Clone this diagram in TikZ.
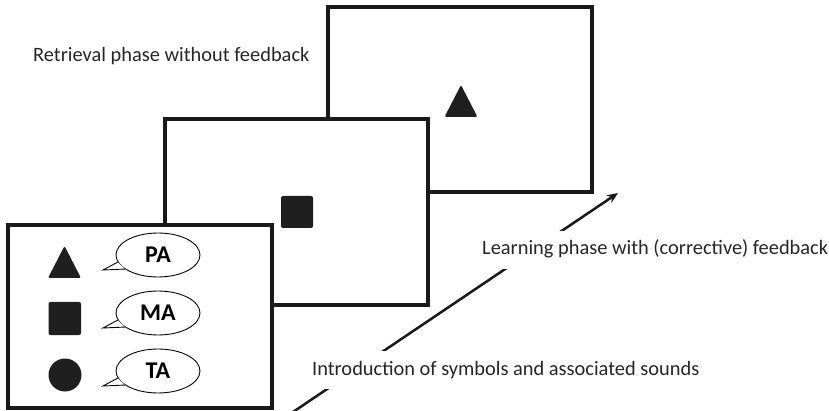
\documentclass[tikz,border=0pt]{standalone}
\usepackage{fontspec}
\setmainfont{Carlito}
\usetikzlibrary{arrows.meta,calc,shapes.geometric}
\begin{document}
\begin{tikzpicture}[x=1pt,y=-1pt,
  frame/.style={draw=black!90,line width=3.5pt,fill=white,minimum width=264pt,inner sep=0pt},
  symb/.style={fill=black!88,rounded corners=2pt},
  bubble/.style={draw,line width=0.9pt,ellipse,fill=white,minimum width=84pt,minimum height=44pt,inner sep=0pt,font=\fontsize{24}{28}\selectfont\bfseries},
  tail/.style={draw,line width=0.9pt},
  label/.style={font=\fontsize{20.4}{24}\selectfont,text=black!85,anchor=base west,inner xsep=3pt,inner ysep=9pt,text height=15pt,text depth=5pt},
  phasearrow/.style={draw=black!90,line width=2.5pt,-{Stealth[length=11pt,width=9pt]}}
]
\useasboundingbox (0,0) rectangle (829,411);
% phase arrow
\coordinate (a0) at (293,412);
\coordinate (a1) at (618,193);
\draw[phasearrow] (a0) -- (a1);
% labels
\node[label] (retr) at (30,62) {Retrieval phase without feedback};
\node[label,fill=white] (learn) at (479,255) {Learning phase with (corrective) feedback};
\node[label,fill=white] (intro) at (309,375) {Introduction of symbols and associated sounds};
% back frame
\node[frame,minimum height=185pt] (back) at (460,99.5) {};
\fill[symb] (461,85) -- (477.5,117) -- (444.5,117) -- cycle;
% middle frame
\node[frame,minimum width=263pt,minimum height=186pt] (mid) at (296.5,212) {};
\fill[symb] (281,196) rectangle (313,228);
% front frame
\node[frame,minimum height=183pt] (front) at (140,316.5) {};
\fill[symb] (64.5,246) -- (81,278) -- (48,278) -- cycle;
\fill[symb] (48.5,302) rectangle (81,335);
\fill[black!88] (65,375) circle (16.5);
% bubbles
\foreach \n/\t/\yy in {pa/PA/255,ma/MA/313,ta/TA/371}{
  \node[bubble] (\n) at (158,\yy) {\t};
  \coordinate (\n tip) at ($(\n.center)+(-55,15)$);
  \fill[white] (\n.190) -- (\n tip) -- (\n.203) -- cycle;
  \draw[tail] (\n.190) -- (\n tip) -- (\n.203);
}
\end{tikzpicture}
\end{document}
